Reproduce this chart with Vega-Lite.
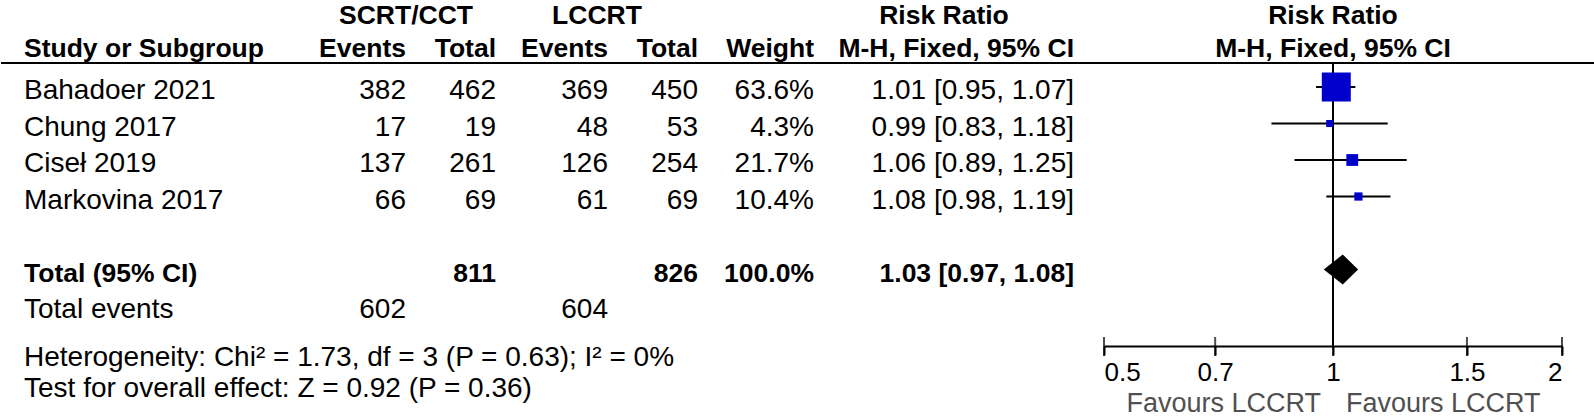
{
  "$schema": "https://vega.github.io/schema/vega-lite/v6.json",
  "padding": 0,
  "spacing": 0,
  "bounds": "flush",
  "background": "white",
  "config": {
    "view": {"stroke": null},
    "text": {"font": "Liberation Sans", "fontSize": 28, "color": "#000000", "baseline": "middle"},
    "rule": {"color": "#000000"},
    "tick": {"color": "#000000"}
  },
  "datasets": {
    "studies": [
      {"study": "Bahadoer 2021", "e1": 382, "t1": 462, "e2": 369, "t2": 450, "weight": 0.636, "rr": 1.01, "lo": 0.95, "hi": 1.07, "ci": "1.01 [0.95, 1.07]"},
      {"study": "Chung 2017", "e1": 17, "t1": 19, "e2": 48, "t2": 53, "weight": 0.043, "rr": 0.99, "lo": 0.83, "hi": 1.18, "ci": "0.99 [0.83, 1.18]"},
      {"study": "Ciseł 2019", "e1": 137, "t1": 261, "e2": 126, "t2": 254, "weight": 0.217, "rr": 1.06, "lo": 0.89, "hi": 1.25, "ci": "1.06 [0.89, 1.25]"},
      {"study": "Markovina 2017", "e1": 66, "t1": 69, "e2": 61, "t2": 69, "weight": 0.104, "rr": 1.08, "lo": 0.98, "hi": 1.19, "ci": "1.08 [0.98, 1.19]"}
    ],
    "total": [
      {"label": "Total (95% CI)", "t1": 811, "t2": 826, "weight": 1.0, "rr": 1.03, "lo": 0.97, "hi": 1.08, "ci": "1.03 [0.97, 1.08]"}
    ],
    "events": [
      {"line": "Total events", "label": "Total events", "e1": 602, "e2": 604}
    ],
    "notes": [
      {"line": "Heterogeneity", "label": "Heterogeneity: Chi² = 1.73, df = 3 (P = 0.63); I² = 0%"},
      {"line": "Test", "label": "Test for overall effect: Z = 0.92 (P = 0.36)"}
    ],
    "ticks": [{"v": 0.5}, {"v": 0.7}, {"v": 1}, {"v": 1.5}, {"v": 2}]
  },
  "hconcat": [
    {
      "width": 315, "height": 418,
      "resolve": {"scale": {"x": "independent", "y": "independent"}},
      "layer": [
        {"data": {"values": [{}]}, "mark": {"type": "rule", "strokeWidth": 2, "yOffset": 14},
         "encoding": {"y": {"datum": "header2", "type": "nominal", "axis": null, "scale": {"type": "point", "domain": ["header1", "header2"], "range": [16, 49], "padding": 0}}}},
        {"data": {"values": [{"row": "header2", "t": "Study or Subgroup"}]},
         "mark": {"type": "text", "align": "left", "dx": 23, "fontWeight": "bold", "fontSize": 26.5},
         "encoding": {
           "x": {"datum": "c", "type": "nominal", "axis": null, "scale": {"type": "point", "domain": ["c"], "align": 0}},
           "y": {"field": "row", "type": "nominal", "axis": null, "scale": {"type": "point", "domain": ["header1", "header2"], "range": [16, 49], "padding": 0}},
           "text": {"field": "t"}}},
        {"data": {"name": "studies"},
         "mark": {"type": "text", "align": "left", "dx": 23},
         "encoding": {
           "x": {"datum": "c", "type": "nominal", "axis": null, "scale": {"type": "point", "domain": ["c"], "align": 0}},
           "y": {"field": "study", "type": "nominal", "axis": null, "scale": {"type": "point", "domain": ["header1", "header2", "Bahadoer 2021", "Chung 2017", "Ciseł 2019", "Markovina 2017", "gap1", "Total (95% CI)", "Total events", "gap3"], "range": [18, 346.5], "padding": 0}},
           "text": {"field": "study"}}},
        {"data": {"name": "total"},
         "mark": {"type": "text", "align": "left", "dx": 23, "fontWeight": "bold", "fontSize": 26.5},
         "encoding": {
           "x": {"datum": "c", "type": "nominal", "axis": null, "scale": {"type": "point", "domain": ["c"], "align": 0}},
           "y": {"field": "label", "type": "nominal", "axis": null, "scale": {"type": "point", "domain": ["header1", "header2", "Bahadoer 2021", "Chung 2017", "Ciseł 2019", "Markovina 2017", "gap1", "Total (95% CI)", "Total events", "gap3"], "range": [18, 346.5], "padding": 0}},
           "text": {"field": "label"}}},
        {"data": {"name": "events"},
         "mark": {"type": "text", "align": "left", "dx": 23},
         "encoding": {
           "x": {"datum": "c", "type": "nominal", "axis": null, "scale": {"type": "point", "domain": ["c"], "align": 0}},
           "y": {"field": "line", "type": "nominal", "axis": null, "scale": {"type": "point", "domain": ["header1", "header2", "Bahadoer 2021", "Chung 2017", "Ciseł 2019", "Markovina 2017", "gap1", "Total (95% CI)", "Total events", "gap3"], "range": [18, 346.5], "padding": 0}},
           "text": {"field": "label"}}},
        {"data": {"name": "notes"},
         "mark": {"type": "text", "align": "left", "dx": 23},
         "encoding": {
           "x": {"datum": "c", "type": "nominal", "axis": null, "scale": {"type": "point", "domain": ["c"], "align": 0}},
           "y": {"field": "line", "type": "nominal", "axis": null, "scale": {"type": "point", "domain": ["Heterogeneity", "Test"], "range": [357.5, 388.5], "padding": 0}},
           "text": {"field": "label"}}}
      ]
    },
    {
      "width": 180, "height": 418,
      "resolve": {"scale": {"x": "independent", "y": "independent"}},
      "layer": [
        {"data": {"values": [{}]}, "mark": {"type": "rule", "strokeWidth": 2, "yOffset": 14},
         "encoding": {"y": {"datum": "header2", "type": "nominal", "axis": null, "scale": {"type": "point", "domain": ["header1", "header2"], "range": [16, 49], "padding": 0}}}},
        {"data": {"values": [{"row": "header1", "t": "SCRT/CCT"}]},
         "mark": {"type": "text", "align": "center", "fontWeight": "bold", "fontSize": 26.5},
         "encoding": {
           "y": {"field": "row", "type": "nominal", "axis": null, "scale": {"type": "point", "domain": ["header1", "header2"], "range": [16, 49], "padding": 0}},
           "text": {"field": "t"}}},
        {"data": {"values": [{"row": "header2", "col": "Events"}, {"row": "header2", "col": "Total"}]},
         "mark": {"type": "text", "align": "right", "fontWeight": "bold", "fontSize": 26.5},
         "encoding": {
           "x": {"field": "col", "type": "nominal", "axis": null, "scale": {"type": "point", "domain": ["Events", "Total"], "padding": 0.5, "align": 1}},
           "y": {"field": "row", "type": "nominal", "axis": null, "scale": {"type": "point", "domain": ["header1", "header2"], "range": [16, 49], "padding": 0}},
           "text": {"field": "col"}}},
        {"data": {"name": "studies"},
         "mark": {"type": "text", "align": "right"},
         "encoding": {
           "x": {"datum": "Events", "type": "nominal", "axis": null, "scale": {"type": "point", "domain": ["Events", "Total"], "padding": 0.5, "align": 1}},
           "y": {"field": "study", "type": "nominal", "axis": null, "scale": {"type": "point", "domain": ["header1", "header2", "Bahadoer 2021", "Chung 2017", "Ciseł 2019", "Markovina 2017", "gap1", "Total (95% CI)", "Total events", "gap3"], "range": [18, 346.5], "padding": 0}},
           "text": {"field": "e1", "type": "quantitative"}}},
        {"data": {"name": "studies"},
         "mark": {"type": "text", "align": "right"},
         "encoding": {
           "x": {"datum": "Total", "type": "nominal", "axis": null, "scale": {"type": "point", "domain": ["Events", "Total"], "padding": 0.5, "align": 1}},
           "y": {"field": "study", "type": "nominal", "axis": null, "scale": {"type": "point", "domain": ["header1", "header2", "Bahadoer 2021", "Chung 2017", "Ciseł 2019", "Markovina 2017", "gap1", "Total (95% CI)", "Total events", "gap3"], "range": [18, 346.5], "padding": 0}},
           "text": {"field": "t1", "type": "quantitative"}}},
        {"data": {"name": "total"},
         "mark": {"type": "text", "align": "right", "fontWeight": "bold", "fontSize": 26.5},
         "encoding": {
           "x": {"datum": "Total", "type": "nominal", "axis": null, "scale": {"type": "point", "domain": ["Events", "Total"], "padding": 0.5, "align": 1}},
           "y": {"field": "label", "type": "nominal", "axis": null, "scale": {"type": "point", "domain": ["header1", "header2", "Bahadoer 2021", "Chung 2017", "Ciseł 2019", "Markovina 2017", "gap1", "Total (95% CI)", "Total events", "gap3"], "range": [18, 346.5], "padding": 0}},
           "text": {"field": "t1", "type": "quantitative"}}},
        {"data": {"name": "events"},
         "mark": {"type": "text", "align": "right"},
         "encoding": {
           "x": {"datum": "Events", "type": "nominal", "axis": null, "scale": {"type": "point", "domain": ["Events", "Total"], "padding": 0.5, "align": 1}},
           "y": {"field": "line", "type": "nominal", "axis": null, "scale": {"type": "point", "domain": ["header1", "header2", "Bahadoer 2021", "Chung 2017", "Ciseł 2019", "Markovina 2017", "gap1", "Total (95% CI)", "Total events", "gap3"], "range": [18, 346.5], "padding": 0}},
           "text": {"field": "e1", "type": "quantitative"}}}
      ]
    },
    {
      "width": 202, "height": 418,
      "resolve": {"scale": {"x": "independent", "y": "independent"}},
      "layer": [
        {"data": {"values": [{}]}, "mark": {"type": "rule", "strokeWidth": 2, "yOffset": 14},
         "encoding": {"y": {"datum": "header2", "type": "nominal", "axis": null, "scale": {"type": "point", "domain": ["header1", "header2"], "range": [16, 49], "padding": 0}}}},
        {"data": {"values": [{"row": "header1", "t": "LCCRT"}]},
         "mark": {"type": "text", "align": "center", "fontWeight": "bold", "fontSize": 26.5},
         "encoding": {
           "y": {"field": "row", "type": "nominal", "axis": null, "scale": {"type": "point", "domain": ["header1", "header2"], "range": [16, 49], "padding": 0}},
           "text": {"field": "t"}}},
        {"data": {"values": [{"row": "header2", "col": "Events"}, {"row": "header2", "col": "Total"}]},
         "mark": {"type": "text", "align": "right", "fontWeight": "bold", "fontSize": 26.5},
         "encoding": {
           "x": {"field": "col", "type": "nominal", "axis": null, "scale": {"type": "point", "domain": ["Events", "Total"], "padding": 0.622, "align": 1}},
           "y": {"field": "row", "type": "nominal", "axis": null, "scale": {"type": "point", "domain": ["header1", "header2"], "range": [16, 49], "padding": 0}},
           "text": {"field": "col"}}},
        {"data": {"name": "studies"},
         "mark": {"type": "text", "align": "right"},
         "encoding": {
           "x": {"datum": "Events", "type": "nominal", "axis": null, "scale": {"type": "point", "domain": ["Events", "Total"], "padding": 0.622, "align": 1}},
           "y": {"field": "study", "type": "nominal", "axis": null, "scale": {"type": "point", "domain": ["header1", "header2", "Bahadoer 2021", "Chung 2017", "Ciseł 2019", "Markovina 2017", "gap1", "Total (95% CI)", "Total events", "gap3"], "range": [18, 346.5], "padding": 0}},
           "text": {"field": "e2", "type": "quantitative"}}},
        {"data": {"name": "studies"},
         "mark": {"type": "text", "align": "right"},
         "encoding": {
           "x": {"datum": "Total", "type": "nominal", "axis": null, "scale": {"type": "point", "domain": ["Events", "Total"], "padding": 0.622, "align": 1}},
           "y": {"field": "study", "type": "nominal", "axis": null, "scale": {"type": "point", "domain": ["header1", "header2", "Bahadoer 2021", "Chung 2017", "Ciseł 2019", "Markovina 2017", "gap1", "Total (95% CI)", "Total events", "gap3"], "range": [18, 346.5], "padding": 0}},
           "text": {"field": "t2", "type": "quantitative"}}},
        {"data": {"name": "total"},
         "mark": {"type": "text", "align": "right", "fontWeight": "bold", "fontSize": 26.5},
         "encoding": {
           "x": {"datum": "Total", "type": "nominal", "axis": null, "scale": {"type": "point", "domain": ["Events", "Total"], "padding": 0.622, "align": 1}},
           "y": {"field": "label", "type": "nominal", "axis": null, "scale": {"type": "point", "domain": ["header1", "header2", "Bahadoer 2021", "Chung 2017", "Ciseł 2019", "Markovina 2017", "gap1", "Total (95% CI)", "Total events", "gap3"], "range": [18, 346.5], "padding": 0}},
           "text": {"field": "t2", "type": "quantitative"}}},
        {"data": {"name": "events"},
         "mark": {"type": "text", "align": "right"},
         "encoding": {
           "x": {"datum": "Events", "type": "nominal", "axis": null, "scale": {"type": "point", "domain": ["Events", "Total"], "padding": 0.622, "align": 1}},
           "y": {"field": "line", "type": "nominal", "axis": null, "scale": {"type": "point", "domain": ["header1", "header2", "Bahadoer 2021", "Chung 2017", "Ciseł 2019", "Markovina 2017", "gap1", "Total (95% CI)", "Total events", "gap3"], "range": [18, 346.5], "padding": 0}},
           "text": {"field": "e2", "type": "quantitative"}}}
      ]
    },
    {
      "width": 116, "height": 418,
      "resolve": {"scale": {"x": "independent", "y": "independent"}},
      "layer": [
        {"data": {"values": [{}]}, "mark": {"type": "rule", "strokeWidth": 2, "yOffset": 14},
         "encoding": {"y": {"datum": "header2", "type": "nominal", "axis": null, "scale": {"type": "point", "domain": ["header1", "header2"], "range": [16, 49], "padding": 0}}}},
        {"data": {"values": [{"row": "header2", "col": "Weight"}]},
         "mark": {"type": "text", "align": "right", "fontWeight": "bold", "fontSize": 26.5},
         "encoding": {
           "x": {"field": "col", "type": "nominal", "axis": null, "scale": {"type": "point", "domain": ["Weight"], "align": 1}},
           "y": {"field": "row", "type": "nominal", "axis": null, "scale": {"type": "point", "domain": ["header1", "header2"], "range": [16, 49], "padding": 0}},
           "text": {"field": "col"}}},
        {"data": {"name": "studies"},
         "mark": {"type": "text", "align": "right"},
         "encoding": {
           "x": {"datum": "Weight", "type": "nominal", "axis": null, "scale": {"type": "point", "domain": ["Weight"], "align": 1}},
           "y": {"field": "study", "type": "nominal", "axis": null, "scale": {"type": "point", "domain": ["header1", "header2", "Bahadoer 2021", "Chung 2017", "Ciseł 2019", "Markovina 2017", "gap1", "Total (95% CI)", "Total events", "gap3"], "range": [18, 346.5], "padding": 0}},
           "text": {"field": "weight", "type": "quantitative", "format": ".1%"}}},
        {"data": {"name": "total"},
         "mark": {"type": "text", "align": "right", "fontWeight": "bold", "fontSize": 26.5},
         "encoding": {
           "x": {"datum": "Weight", "type": "nominal", "axis": null, "scale": {"type": "point", "domain": ["Weight"], "align": 1}},
           "y": {"field": "label", "type": "nominal", "axis": null, "scale": {"type": "point", "domain": ["header1", "header2", "Bahadoer 2021", "Chung 2017", "Ciseł 2019", "Markovina 2017", "gap1", "Total (95% CI)", "Total events", "gap3"], "range": [18, 346.5], "padding": 0}},
           "text": {"field": "weight", "type": "quantitative", "format": ".1%"}}}
      ]
    },
    {
      "width": 260, "height": 418,
      "resolve": {"scale": {"x": "independent", "y": "independent"}},
      "layer": [
        {"data": {"values": [{}]}, "mark": {"type": "rule", "strokeWidth": 2, "yOffset": 14},
         "encoding": {"y": {"datum": "header2", "type": "nominal", "axis": null, "scale": {"type": "point", "domain": ["header1", "header2"], "range": [16, 49], "padding": 0}}}},
        {"data": {"values": [{"row": "header1", "t": "Risk Ratio"}]},
         "mark": {"type": "text", "align": "center", "fontWeight": "bold", "fontSize": 26.5},
         "encoding": {
           "y": {"field": "row", "type": "nominal", "axis": null, "scale": {"type": "point", "domain": ["header1", "header2"], "range": [16, 49], "padding": 0}},
           "text": {"field": "t"}}},
        {"data": {"values": [{"row": "header2", "t": "M-H, Fixed, 95% CI"}]},
         "mark": {"type": "text", "align": "right", "fontWeight": "bold", "fontSize": 26.5},
         "encoding": {
           "x": {"datum": "RR", "type": "nominal", "axis": null, "scale": {"type": "point", "domain": ["RR"], "align": 1}},
           "y": {"field": "row", "type": "nominal", "axis": null, "scale": {"type": "point", "domain": ["header1", "header2"], "range": [16, 49], "padding": 0}},
           "text": {"field": "t"}}},
        {"data": {"name": "studies"},
         "mark": {"type": "text", "align": "right"},
         "encoding": {
           "x": {"datum": "RR", "type": "nominal", "axis": null, "scale": {"type": "point", "domain": ["RR"], "align": 1}},
           "y": {"field": "study", "type": "nominal", "axis": null, "scale": {"type": "point", "domain": ["header1", "header2", "Bahadoer 2021", "Chung 2017", "Ciseł 2019", "Markovina 2017", "gap1", "Total (95% CI)", "Total events", "gap3"], "range": [18, 346.5], "padding": 0}},
           "text": {"field": "ci"}}},
        {"data": {"name": "total"},
         "mark": {"type": "text", "align": "right", "fontWeight": "bold", "fontSize": 26.5},
         "encoding": {
           "x": {"datum": "RR", "type": "nominal", "axis": null, "scale": {"type": "point", "domain": ["RR"], "align": 1}},
           "y": {"field": "label", "type": "nominal", "axis": null, "scale": {"type": "point", "domain": ["header1", "header2", "Bahadoer 2021", "Chung 2017", "Ciseł 2019", "Markovina 2017", "gap1", "Total (95% CI)", "Total events", "gap3"], "range": [18, 346.5], "padding": 0}},
           "text": {"field": "ci"}}}
      ]
    },
    {
      "width": 521, "height": 418,
      "resolve": {"scale": {"x": "independent", "y": "independent"}},
      "layer": [
        {"data": {"values": [{}]}, "mark": {"type": "rule", "strokeWidth": 2, "yOffset": 14},
         "encoding": {"y": {"datum": "header2", "type": "nominal", "axis": null, "scale": {"type": "point", "domain": ["header1", "header2"], "range": [16, 49], "padding": 0}}}},
        {"data": {"values": [{"row": "header1", "t": "Risk Ratio"}, {"row": "header2", "t": "M-H, Fixed, 95% CI"}]},
         "mark": {"type": "text", "align": "center", "fontWeight": "bold", "fontSize": 26.5},
         "encoding": {
           "x": {"datum": 1, "type": "quantitative", "axis": null, "scale": {"type": "log", "domain": [0.5, 2], "range": [30, 488]}},
           "y": {"field": "row", "type": "nominal", "axis": null, "scale": {"type": "point", "domain": ["header1", "header2"], "range": [16, 49], "padding": 0}},
           "text": {"field": "t"}}},
        {"data": {"values": [{}]},
         "mark": {"type": "rule", "strokeWidth": 2, "yOffset": 8.5},
         "encoding": {
           "x": {"datum": 1, "type": "quantitative", "axis": null, "scale": {"type": "log", "domain": [0.5, 2], "range": [30, 488]}},
           "y": {"datum": "header2", "type": "nominal", "axis": null, "scale": {"type": "point", "domain": ["header1", "header2", "Bahadoer 2021", "Chung 2017", "Ciseł 2019", "Markovina 2017", "gap1", "Total (95% CI)", "Total events", "gap3"], "range": [18, 346.5], "padding": 0}},
           "y2": {"datum": "gap3"}}},
        {"data": {"name": "studies"},
         "mark": {"type": "rule", "strokeWidth": 2, "yOffset": -4},
         "encoding": {
           "x": {"field": "lo", "type": "quantitative", "axis": null, "scale": {"type": "log", "domain": [0.5, 2], "range": [30, 488]}},
           "x2": {"field": "hi"},
           "y": {"field": "study", "type": "nominal", "axis": null, "scale": {"type": "point", "domain": ["header1", "header2", "Bahadoer 2021", "Chung 2017", "Ciseł 2019", "Markovina 2017", "gap1", "Total (95% CI)", "Total events", "gap3"], "range": [18, 346.5], "padding": 0}}}},
        {"data": {"name": "studies"},
         "mark": {"type": "point", "shape": "square", "filled": true, "opacity": 1, "color": "#0000cc", "yOffset": -4},
         "encoding": {
           "x": {"field": "rr", "type": "quantitative", "axis": null, "scale": {"type": "log", "domain": [0.5, 2], "range": [30, 488]}},
           "y": {"field": "study", "type": "nominal", "axis": null, "scale": {"type": "point", "domain": ["header1", "header2", "Bahadoer 2021", "Chung 2017", "Ciseł 2019", "Markovina 2017", "gap1", "Total (95% CI)", "Total events", "gap3"], "range": [18, 346.5], "padding": 0}},
           "size": {"field": "weight", "type": "quantitative", "legend": null, "scale": {"type": "pow", "exponent": 2, "domain": [0.043, 0.636], "range": [50, 841], "zero": false}}}},
        {"data": {"name": "total"},
         "mark": {"type": "point", "shape": "M-0.95,0L0,-0.75L0.765,0L0,0.75Z", "size": 1600, "filled": true, "opacity": 1, "color": "#000000", "yOffset": -4},
         "encoding": {
           "x": {"field": "rr", "type": "quantitative", "axis": null, "scale": {"type": "log", "domain": [0.5, 2], "range": [30, 488]}},
           "y": {"field": "label", "type": "nominal", "axis": null, "scale": {"type": "point", "domain": ["header1", "header2", "Bahadoer 2021", "Chung 2017", "Ciseł 2019", "Markovina 2017", "gap1", "Total (95% CI)", "Total events", "gap3"], "range": [18, 346.5], "padding": 0}}}},
        {"data": {"name": "ticks"},
         "mark": {"type": "tick", "orient": "vertical", "size": 19, "thickness": 2, "color": "#000000"},
         "encoding": {
           "x": {"field": "v", "type": "quantitative",
                 "scale": {"type": "log", "domain": [0.5, 2], "range": [30, 488]},
                 "axis": {"orient": "bottom", "offset": -72, "values": [0.5, 0.7, 1, 1.5, 2], "format": "~g", "title": null, "grid": false,
                          "domain": true, "domainColor": "#000000", "domainWidth": 2,
                          "ticks": true, "tickSize": 9, "tickWidth": 2, "tickColor": "#000000",
                          "labelFlush": true, "labelFont": "Liberation Sans", "labelFontSize": 26, "labelColor": "#000000", "labelPadding": 4}},
           "y": {"datum": "gap3", "type": "nominal", "axis": null, "scale": {"type": "point", "domain": ["header1", "header2", "Bahadoer 2021", "Chung 2017", "Ciseł 2019", "Markovina 2017", "gap1", "Total (95% CI)", "Total events", "gap3"], "range": [18, 346.5], "padding": 0}}}},
        {"data": {"values": [{"line": "Favours", "t": "Favours LCCRT"}]},
         "mark": {"type": "text", "align": "right", "dx": -12, "fontSize": 27, "color": "#505050"},
         "encoding": {
           "x": {"datum": 1, "type": "quantitative", "axis": null, "scale": {"type": "log", "domain": [0.5, 2], "range": [30, 488]}},
           "y": {"field": "line", "type": "nominal", "axis": null, "scale": {"type": "point", "domain": ["Favours"], "range": [404, 404], "padding": 0}},
           "text": {"field": "t"}}},
        {"data": {"values": [{"line": "Favours", "t": "Favours LCCRT"}]},
         "mark": {"type": "text", "align": "left", "dx": 13, "fontSize": 27, "color": "#505050"},
         "encoding": {
           "x": {"datum": 1, "type": "quantitative", "axis": null, "scale": {"type": "log", "domain": [0.5, 2], "range": [30, 488]}},
           "y": {"field": "line", "type": "nominal", "axis": null, "scale": {"type": "point", "domain": ["Favours"], "range": [404, 404], "padding": 0}},
           "text": {"field": "t"}}}
      ]
    }
  ]
}
